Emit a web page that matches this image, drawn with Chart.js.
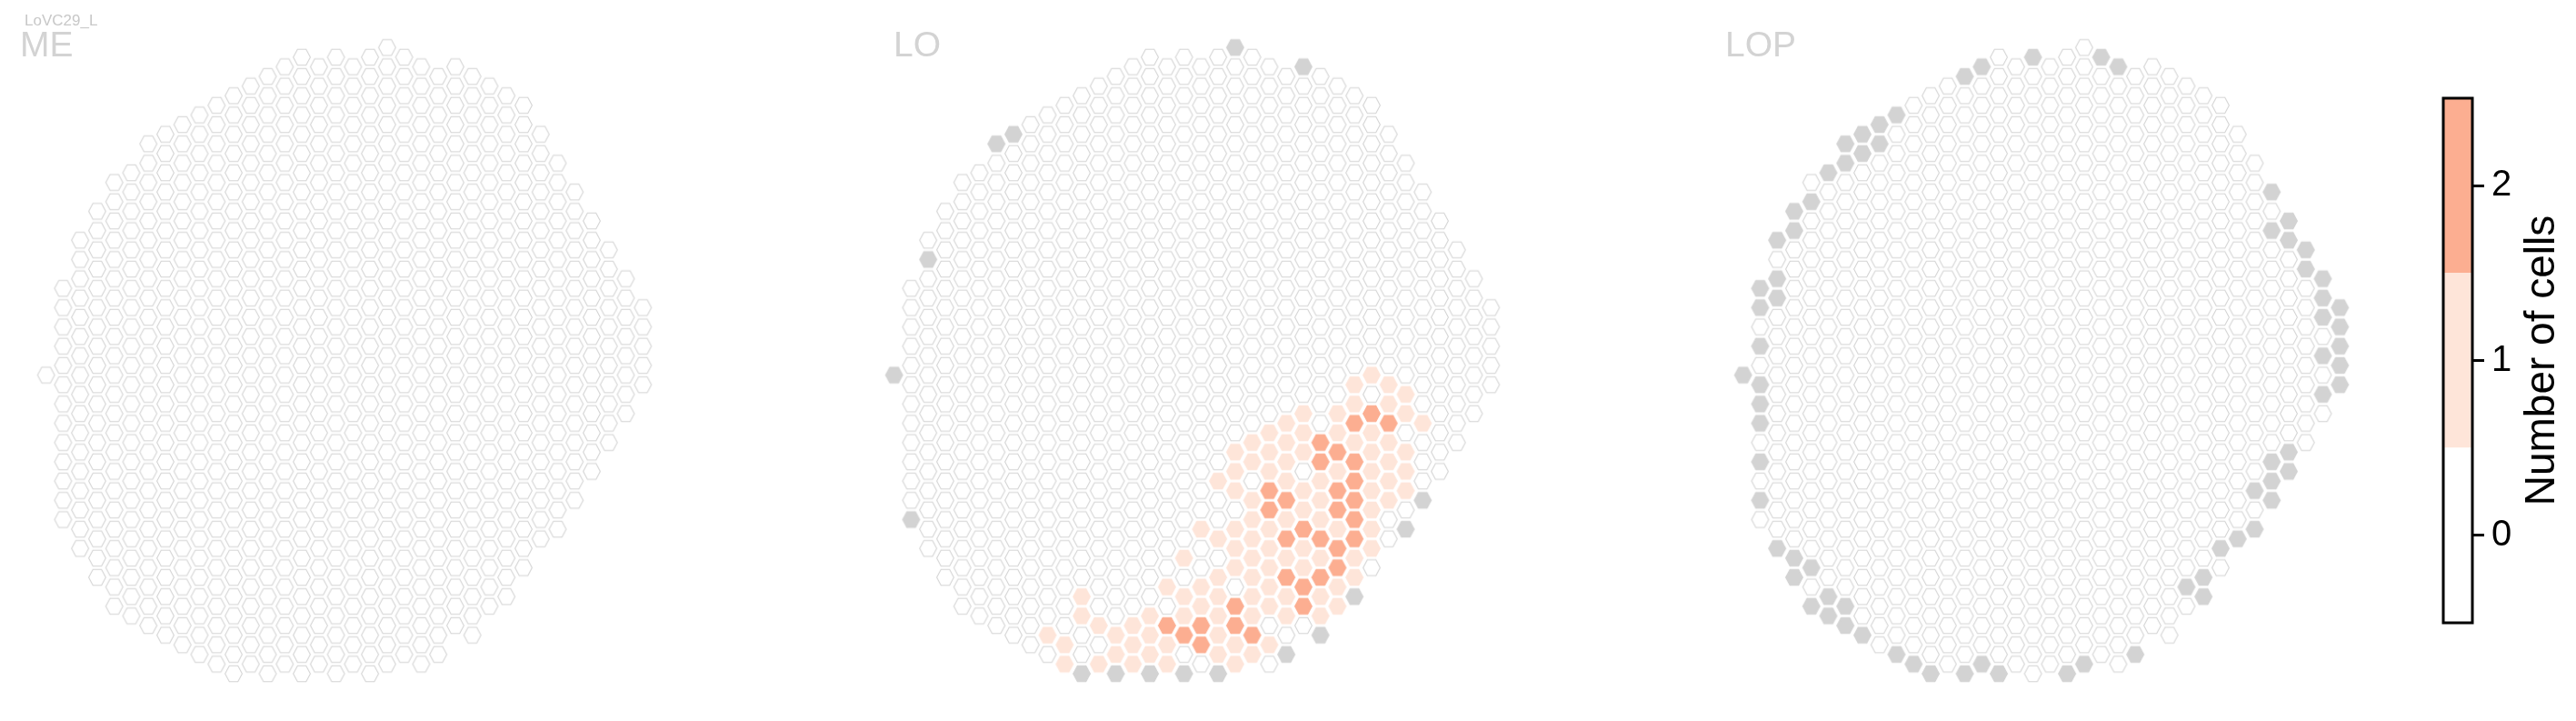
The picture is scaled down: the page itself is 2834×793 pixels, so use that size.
<!DOCTYPE html>
<html>
<head>
<meta charset="utf-8">
<script src="https://cdn.jsdelivr.net/npm/chart.js@4.4.1/dist/chart.umd.min.js"></script>
<style>
  body { margin: 0; background: #fff; width: 2834px; height: 793px; overflow: hidden; position: relative; }
  canvas { position: absolute; top: 0; }
</style>
</head>
<body>
<canvas id="me" width="930" height="793" style="left:0px"></canvas>
<canvas id="lo" width="930" height="793" style="left:933px"></canvas>
<canvas id="lop" width="930" height="793" style="left:1867px"></canvas>
<canvas id="cb" width="234" height="793" style="left:2600px"></canvas>
<script>
// hex columns of the eye map: first and last row (rows step by 2 inside a column)
var colStart = [34, 25, 20, 17, 14, 13, 10, 9, 8, 7, 6, 5, 4, 3, 2, 1, 2, 1, 2, 1, 0, 1, 2, 3, 2, 3, 4, 5, 6, 9, 12, 15, 18, 21, 24, 27];
var colEnd   = [34, 49, 52, 55, 58, 59, 60, 61, 62, 63, 64, 65, 64, 65, 64, 65, 64, 65, 64, 65, 64, 63, 64, 63, 60, 61, 58, 57, 54, 51, 50, 47, 44, 41, 38, 35];

// LO: cells with 1 and 2 cells, and columns missing in LO
var loOne = [
  [28,34],[27,35],[29,35],[30,36],[27,37],[29,37],[24,38],[26,38],[30,38],[23,39],[31,39],
  [22,40],[24,40],[26,40],[28,40],[21,41],[23,41],[27,41],[29,41],[20,42],[22,42],[24,42],[28,42],[30,42],
  [21,43],[23,43],[29,43],[20,44],[22,44],[26,44],[28,44],[30,44],[19,45],[23,45],[25,45],[29,45],
  [20,46],[24,46],[28,46],[30,46],[21,47],[25,47],[29,47],[24,48],[28,48],[21,49],[23,49],[25,49],
  [18,50],[20,50],[22,50],[26,50],[28,50],[19,51],[21,51],[20,52],[22,52],[24,52],[28,52],
  [17,53],[21,53],[23,53],[25,53],[27,53],[20,54],[22,54],[24,54],[19,55],[21,55],[27,55],
  [16,56],[18,56],[22,56],[26,56],[11,57],[17,57],[19,57],[21,57],[23,57],[25,57],[18,58],[22,58],[26,58],
  [11,59],[15,59],[17,59],[19,59],[21,59],[23,59],[25,59],[12,60],[14,60],[9,61],[13,61],[15,61],[19,61],
  [10,62],[14,62],[16,62],[20,62],[22,62],[13,63],[15,63],[19,63],[21,63],[10,64],[12,64],[14,64],[16,64],[20,64]
];
var loTwo = [
  [28,38],[27,39],[29,39],[25,41],[26,42],[25,43],[27,43],[27,45],[26,46],[27,47],[26,48],[27,49],
  [22,46],[23,47],[22,48],[24,50],[23,51],[25,51],[27,51],[26,52],[26,54],[23,55],[25,55],[24,56],
  [24,58],[20,58],[20,60],[16,60],[18,60],[17,61],[18,62],[21,61]
];
var loMissing = [
  [20,0],[24,2],[7,9],[6,10],[2,22],[0,34],[1,49],[31,47],[30,50],[27,57],[25,61],[23,63],
  [19,65],[17,65],[15,65],[13,65],[11,65]
];
var lopMissing = [
  [17,1],[21,1],[22,2],[14,2],[13,3],[9,7],[8,8],[7,9],[8,10],[6,10],[7,11],[6,12],[5,13],[4,16],
  [3,17],[3,19],[2,20],[2,24],[1,25],[2,26],[1,27],[1,31],[0,34],[1,35],[1,37],[1,39],[1,43],[1,47],
  [2,52],[3,53],[4,54],[3,55],[5,57],[4,58],[6,58],[5,59],[6,60],[7,61],[9,63],[10,64],[11,65],
  [13,65],[14,64],[15,65],[19,65],[20,64],[23,63],
  [31,15],[32,18],[31,19],[32,20],[33,21],[33,23],[34,24],[34,26],[35,27],[34,28],[35,29],[35,31],
  [34,32],[35,33],[35,35],[34,36],[32,42],[31,43],[32,44],[31,45],[30,46],[31,47],[30,50],[29,51],
  [28,52],[27,55],[26,56],[27,57]
];

var panelNames = ['ME', 'LO', 'LOP'];
var cellType = 'LoVC29_L';
var cbTicks = [0, 1, 2];
var cbBands = [[-0.5, 0.5], [0.5, 1.5], [1.5, 2.5]];
var cbColors = ['#ffffff', '#fee5d9', '#fcae91'];
var missingColor = '#d3d3d3';

function hexImage(fill, stroke) {
  var c = document.createElement('canvas');
  c.width = 24; c.height = 22;
  var x = c.getContext('2d');
  var cx = 12, cy = 11, w = 9.4, h = 8.75;
  x.beginPath();
  x.moveTo(cx - w, cy);
  x.lineTo(cx - w / 2, cy - h);
  x.lineTo(cx + w / 2, cy - h);
  x.lineTo(cx + w, cy);
  x.lineTo(cx + w / 2, cy + h);
  x.lineTo(cx - w / 2, cy + h);
  x.closePath();
  x.fillStyle = fill;
  x.fill();
  x.lineWidth = 1.1;
  x.strokeStyle = stroke;
  x.stroke();
  return c;
}

var imgEmpty = hexImage('#ffffff', '#d4d4d4');
var imgOne = hexImage(cbColors[1], cbColors[1]);
var imgTwo = hexImage(cbColors[2], cbColors[2]);
var imgMissing = hexImage(missingColor, missingColor);

function keyOf(p) { return p[0] + ',' + p[1]; }

function panelData(one, two, missing) {
  var oneSet = new Set(one.map(keyOf));
  var twoSet = new Set(two.map(keyOf));
  var missSet = new Set(missing.map(keyOf));
  var groups = { empty: [], one: [], two: [], miss: [] };
  colStart.forEach(function (r0, c) {
    for (var r = r0; r <= colEnd[c]; r += 2) {
      var k = c + ',' + r;
      var pt = { x: c, y: r };
      if (missSet.has(k)) groups.miss.push(pt);
      else if (twoSet.has(k)) groups.two.push(pt);
      else if (oneSet.has(k)) groups.one.push(pt);
      else groups.empty.push(pt);
    }
  });
  return [
    { data: groups.empty, pointStyle: imgEmpty },
    { data: groups.miss, pointStyle: imgMissing },
    { data: groups.one, pointStyle: imgOne },
    { data: groups.two, pointStyle: imgTwo }
  ];
}

function titlePlugin(name, tx, sub) {
  return {
    id: 'panelTitle',
    afterDraw: function (chart) {
      var ctx = chart.ctx;
      ctx.save();
      ctx.textBaseline = 'alphabetic';
      ctx.textAlign = 'left';
      if (sub) {
        ctx.fillStyle = '#c8c8c8';
        ctx.font = '17px "Liberation Sans", Arial, sans-serif';
        ctx.fillText(sub, 27, 28);
      }
      ctx.fillStyle = '#d3d3d3';
      ctx.font = '39px "Liberation Sans", Arial, sans-serif';
      ctx.fillText(name, tx, 62);
      ctx.restore();
    }
  };
}

function hexPanel(id, name, tx, sub, sets) {
  new Chart(document.getElementById(id), {
    type: 'scatter',
    data: {
      datasets: sets.map(function (s) {
        return { data: s.data, pointStyle: s.pointStyle, pointRadius: 10, pointHoverRadius: 10, clip: false };
      })
    },
    options: {
      responsive: false,
      animation: false,
      events: [],
      layout: { padding: 0, autoPadding: false },
      plugins: { legend: { display: false }, tooltip: { enabled: false } },
      scales: {
        x: { type: 'linear', display: false, min: -2.70, max: 46.873 },
        y: { type: 'linear', display: false, reverse: true, min: -4.936, max: 69.91 }
      }
    },
    plugins: [titlePlugin(name, tx, sub)]
  });
}

hexPanel('me', panelNames[0], 22, cellType, panelData([], [], []));
hexPanel('lo', panelNames[1], 50, null, panelData(loOne, loTwo, loMissing));
hexPanel('lop', panelNames[2], 31, null, panelData([], [], lopMissing));

// colour bar
new Chart(document.getElementById('cb'), {
  type: 'bar',
  data: {
    labels: ['n'],
    datasets: cbBands.map(function (b, i) {
      return { data: [b], backgroundColor: cbColors[i], borderWidth: 0 };
    })
  },
  options: {
    responsive: false,
    animation: false,
    events: [],
    layout: { padding: { left: 88, right: 54, top: 108, bottom: 108 }, autoPadding: false },
    plugins: { legend: { display: false }, tooltip: { enabled: false } },
    datasets: { bar: { grouped: false, categoryPercentage: 1, barPercentage: 1 } },
    scales: {
      x: { display: false },
      y: {
        position: 'right',
        min: -0.5, max: 2.5,
        afterBuildTicks: function (s) { s.ticks = cbTicks.map(function (v) { return { value: v }; }); },
        afterFit: function (s) { s.width = 60; },
        border: { display: false },
        grid: { display: true, drawOnChartArea: false, drawTicks: true, tickLength: 13, tickWidth: 3, tickColor: '#000' },
        ticks: { color: '#000', padding: 8, font: { size: 40, family: '"Liberation Sans", Arial, sans-serif' } }
      }
    }
  },
  plugins: [{
    id: 'cbFrame',
    afterDraw: function (chart) {
      var a = chart.chartArea, ctx = chart.ctx;
      ctx.save();
      ctx.lineWidth = 3;
      ctx.strokeStyle = '#000';
      ctx.strokeRect(a.left, a.top, a.right - a.left, a.bottom - a.top);
      ctx.translate(197, (a.top + a.bottom) / 2);
      ctx.rotate(-Math.PI / 2);
      ctx.fillStyle = '#000';
      ctx.textAlign = 'center';
      ctx.textBaseline = 'middle';
      ctx.font = '46px "Liberation Sans", Arial, sans-serif';
      ctx.fillText('Number of cells', 0, 0);
      ctx.restore();
    }
  }]
});
</script>
</body>
</html>
